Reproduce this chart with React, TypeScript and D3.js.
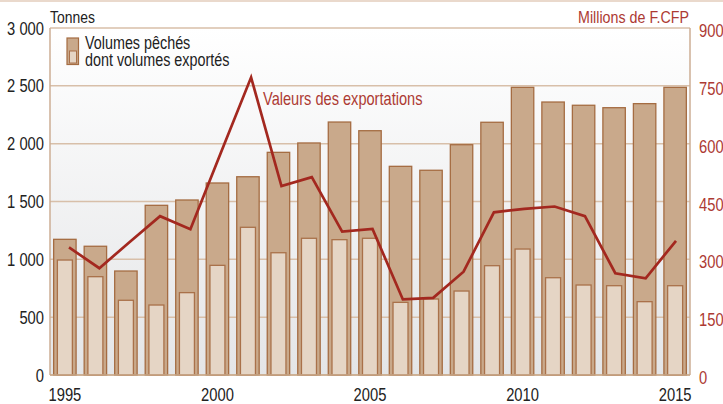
import React from "react";
import * as d3 from "d3";

const years = [1995,1996,1997,1998,1999,2000,2001,2002,2003,2004,2005,2006,2007,2008,2009,2010,2011,2012,2013,2014,2015];
const volumesPeches = [1173,1113,899,1467,1513,1660,1714,1925,2006,2187,2112,1804,1770,1991,2185,2487,2360,2332,2311,2346,2487];
const volumesExportes = [994,850,646,605,712,948,1277,1057,1182,1170,1182,628,657,726,945,1089,841,778,772,634,772];
const valeursExport = [331,277,345,412,378,576,772,490,513,372,379,196,200,268,422,431,437,412,264,251,348];
const leftTicks = [0,500,1000,1500,2000,2500,3000];
const rightTicks = [0,150,300,450,600,750,900];
const yearLabels = [1995,2000,2005,2010,2015];

const W = 723, H = 404;
const L = 50, R = 690, T = 28, B = 375;
const FONT = "'Liberation Sans', Arial, sans-serif";
const RED = "#ad3a33";
const SX = 0.82;

const fmt = d3.formatLocale({ decimal: ",", thousands: " ", grouping: [3], currency: ["", ""] }).format(",d");

function NText({ x, y, size, fill, anchor, children }: { x: number; y: number; size: number; fill: string; anchor?: string; children: React.ReactNode }) {
  return (
    <text transform={`translate(${x},${y}) scale(${SX},1)`} fontSize={size} fill={fill} textAnchor={anchor ?? "start"}>
      {children}
    </text>
  );
}

export default function App() {
  const x = d3.scaleBand<number>().domain(years).range([L, R]).paddingInner(0.265).paddingOuter(0.12);
  const xl = d3.scaleLinear().domain([1995, 2015]).range([69, 676]);
  const y = d3.scaleLinear().domain([0, 3000]).range([B, T]);
  const y2 = d3.scaleLinear().domain([0, 900]).range([B, T]);
  const bw = x.bandwidth();
  const iw = 15;
  const line = d3.line<number>().x((_, i) => xl(years[i])).y((d) => y2(d));

  return (
    <svg width={W} height={H} style={{ position: "absolute", left: 0, top: 0, background: "#fff" }} fontFamily={FONT}>
      <defs>
        <linearGradient id="bg" x1="0" y1="0" x2="0" y2="1">
          <stop offset="0" stopColor="#ffffff" />
          <stop offset="1" stopColor="#e4e5e7" />
        </linearGradient>
      </defs>
      <line x1={0} x2={W} y1={1} y2={1} stroke="#ead9cc" strokeWidth={2} />
      <rect x={L} y={T} width={R - L} height={B - T} fill="url(#bg)" />
      {leftTicks.map((t) => (
        <line key={t} x1={L} x2={R} y1={y(t)} y2={y(t)} stroke="#d8bfa9" strokeWidth={1.5} />
      ))}
      <line x1={L} x2={L} y1={T} y2={B} stroke="#cdae94" strokeWidth={1.5} />
      <line x1={R} x2={R} y1={T} y2={B} stroke="#cdae94" strokeWidth={1.5} />
      {years.map((yr, i) => (
        <g key={yr}>
          <rect x={x(yr)!} y={y(volumesPeches[i])} width={bw} height={B - y(volumesPeches[i])}
            fill="#c9a98b" stroke="#a56c42" strokeWidth={1.3} />
          <rect x={x(yr)! + (bw - iw) / 2} y={y(volumesExportes[i])} width={iw} height={B - y(volumesExportes[i])}
            fill="#e5d5c5" stroke="#a9714a" strokeWidth={1.3} />
        </g>
      ))}
      <line x1={L} x2={R} y1={B} y2={B} stroke="#c9a88a" strokeWidth={1.5} />
      <path d={line(valeursExport) ?? ""} fill="none" stroke="#a3281f" strokeWidth={2.7} strokeLinejoin="miter" />
      {leftTicks.map((t) => (
        <NText key={t} x={44} y={y(t) + 6.5} anchor="end" size={18} fill="#222">{fmt(t)}</NText>
      ))}
      {rightTicks.map((t) => (
        <NText key={t} x={699} y={y2(t) + 9} size={18} fill={RED}>{t}</NText>
      ))}
      {yearLabels.map((yr) => (
        <NText key={yr} x={x(yr)! + bw / 2} y={401} anchor="middle" size={18} fill="#222">{yr}</NText>
      ))}
      <NText x={50} y={23} size={17} fill="#222">Tonnes</NText>
      <NText x={689} y={23} anchor="end" size={17.4} fill={RED}>Millions de F.CFP</NText>
      <rect x={67} y={38} width={11.5} height={26.5} fill="#c9a98b" stroke="#a56c42" strokeWidth={1.2} />
      <rect x={69.5} y={51} width={7} height={12} fill="#e5d5c5" stroke="#a9714a" strokeWidth={1} />
      <NText x={85} y={48.5} size={17.5} fill="#222">Volumes pêchés</NText>
      <NText x={85} y={66} size={17.5} fill="#222">dont volumes exportés</NText>
      <NText x={263} y={105} size={17.8} fill={RED}>Valeurs des exportations</NText>
    </svg>
  );
}
